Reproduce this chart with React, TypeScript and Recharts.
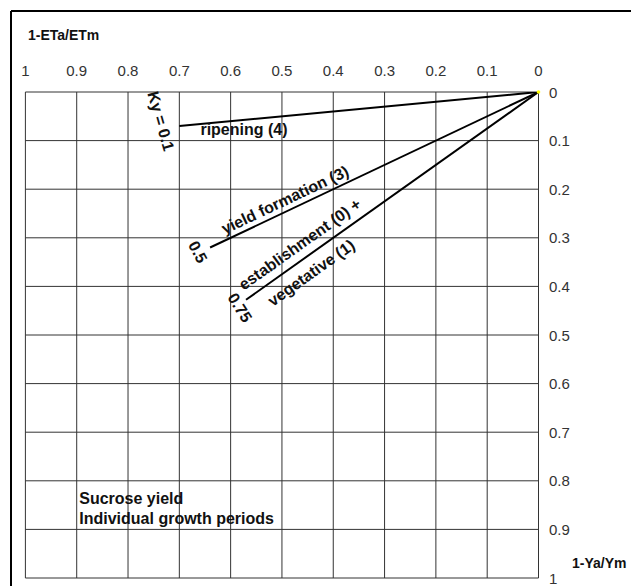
import React from 'react';
import { ComposedChart, Line, XAxis, YAxis, CartesianGrid, ReferenceDot } from 'recharts';

// Axis ticks
const xTicks = [1, 0.9, 0.8, 0.7, 0.6, 0.5, 0.4, 0.3, 0.2, 0.1, 0];
const yTicks = [0, 0.1, 0.2, 0.3, 0.4, 0.5, 0.6, 0.7, 0.8, 0.9, 1];

// Series: 1-ETa/ETm (x) vs 1-Ya/Ym (y)
const ripeningX = [0, 0.7];
const ripeningY = [0, 0.07];
const yieldFormationX = [0, 0.64];
const yieldFormationY = [0, 0.32];
const establishmentX = [0, 0.57];
const establishmentY = [0, 0.4275];

// Annotation texts and their anchor values (data space)
const labelTexts = ['ripening (4)', 'Ky = 0.1', 'yield formation (3)', '0.5', 'establishment (0) +', 'vegetative (1)', '0.75'];
const labelX = [0.574, 0.736, 0.494, 0.664, 0.465, 0.443, 0.582];
const labelY = [0.078, 0.06, 0.222, 0.329, 0.313, 0.372, 0.444];
const noteTexts = ['Sucrose yield', 'Individual growth periods'];
const noteX = [0.895, 0.895];
const noteY = [0.836, 0.877];

const labelAngles = [0, 74, -25.4, 62, -35.4, -35.4, 58];

const toPoints = (xs: number[], ys: number[]) => xs.map((x, i) => ({ x, y: ys[i] }));

const FONT = "'Liberation Sans', Arial, Helvetica, sans-serif";

const XTick = (props: any) => {
  const { x, y, payload } = props;
  return (
    <text x={x} y={y - 22} textAnchor="middle" dominantBaseline="central" fontSize={15} fill="#333" fontFamily={FONT}>
      {String(payload.value)}
    </text>
  );
};

const YTick = (props: any) => {
  const { x, y, payload } = props;
  return (
    <text x={x + 10.5} y={y} textAnchor="start" dominantBaseline="central" fontSize={15} fill="#333" fontFamily={FONT}>
      {String(payload.value)}
    </text>
  );
};

const makeLabelShape = (text: string, angle: number, anchor: string) => (props: any) => {
  const { cx, cy } = props;
  return (
    <text
      x={cx}
      y={cy}
      textAnchor={anchor}
      dominantBaseline="central"
      fontSize={16}
      fontWeight="bold"
      fill="#111"
      fontFamily={FONT}
      transform={angle ? `rotate(${angle}, ${cx}, ${cy})` : undefined}
    >
      {text}
    </text>
  );
};

export default function App() {
  return (
    <div style={{ position: 'relative', width: 631, height: 586, overflow: 'hidden', background: '#fff' }}>
      <style>{'body{margin:0;overflow:hidden;}'}</style>
      <ComposedChart width={631} height={586} margin={{ top: 62, right: 32.5, bottom: 8, left: 25.4 }}>
        <CartesianGrid stroke="#333" strokeWidth={1} />
        <XAxis
          type="number"
          dataKey="x"
          domain={[0, 1]}
          reversed
          orientation="top"
          height={30}
          ticks={xTicks}
          interval={0}
          tickSize={0}
          tickMargin={0}
          axisLine={false}
          tick={<XTick />}
          allowDataOverflow
        />
        <YAxis
          type="number"
          dataKey="y"
          domain={[0, 1]}
          reversed
          orientation="right"
          width={60}
          ticks={yTicks}
          interval={0}
          tickSize={0}
          tickMargin={0}
          axisLine={false}
          tick={<YTick />}
          allowDataOverflow
        />
        <Line data={toPoints(ripeningX, ripeningY)} dataKey="y" stroke="#000" strokeWidth={2} dot={false} isAnimationActive={false} />
        <Line data={toPoints(yieldFormationX, yieldFormationY)} dataKey="y" stroke="#000" strokeWidth={2} dot={false} isAnimationActive={false} />
        <Line data={toPoints(establishmentX, establishmentY)} dataKey="y" stroke="#000" strokeWidth={2} dot={false} isAnimationActive={false} />
        <ReferenceDot x={0} y={0} r={1.8} fill="#ffff00" stroke="none" />
        {labelTexts.map((t, i) => (
          <ReferenceDot key={t} x={labelX[i]} y={labelY[i]} r={0} shape={makeLabelShape(t, labelAngles[i], 'middle')} />
        ))}
        {noteTexts.map((t, i) => (
          <ReferenceDot key={t} x={noteX[i]} y={noteY[i]} r={0} shape={makeLabelShape(t, 0, 'start')} />
        ))}
      </ComposedChart>
      <svg width={631} height={586} style={{ position: 'absolute', left: 0, top: 0, pointerEvents: 'none' }}>
        <line x1={11} y1={11} x2={640} y2={11} stroke="#000" strokeWidth={2} />
        <line x1={11} y1={11} x2={11} y2={600} stroke="#000" strokeWidth={2} />
        <text x={28} y={35} dominantBaseline="central" fontSize={14} fontWeight="bold" fill="#111" fontFamily={FONT}>1-ETa/ETm</text>
        <text x={572} y={563} dominantBaseline="central" fontSize={14} fontWeight="bold" fill="#111" fontFamily={FONT}>1-Ya/Ym</text>
      </svg>
    </div>
  );
}
